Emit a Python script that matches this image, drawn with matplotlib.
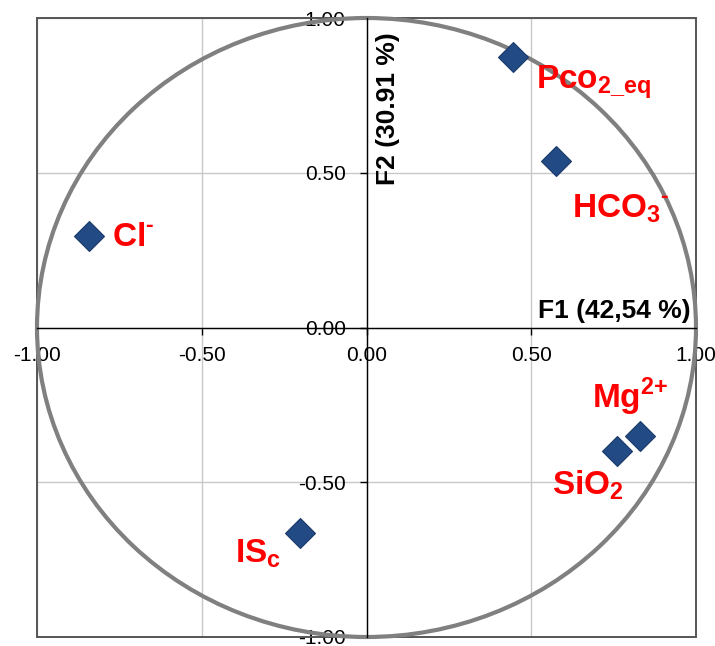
import matplotlib
matplotlib.use("Agg")
import matplotlib.pyplot as plt
from matplotlib.patches import Circle, Rectangle

plt.rcParams['font.family'] = ['Liberation Sans', 'DejaVu Sans']
plt.rcParams['mathtext.fontset'] = 'custom'
plt.rcParams['mathtext.rm'] = 'Liberation Sans:bold'
plt.rcParams['mathtext.bf'] = 'Liberation Sans:bold'

# variables (correlation circle F1/F2)
names = [r'$\mathbf{Pco}_{\mathbf{2\_eq}}$',
         r'$\mathbf{HCO}_{\mathbf{3}}{}^{\text{-}}$',
         r'$\mathbf{Cl}^{\text{-}}$',
         r'$\mathbf{Mg}^{\text{2+}}$',
         r'$\mathbf{SiO}_{\mathbf{2}}$',
         r'$\mathbf{IS}_{\mathbf{c}}$']
f1 = [0.444, 0.574, -0.842, 0.831, 0.760, -0.202]
f2 = [0.874, 0.538, 0.296, -0.350, -0.398, -0.664]
ticks = [-1.0, -0.5, 0.0, 0.5, 1.0]
tick_labels = ['-1.00', '-0.50', '0.00', '0.50', '1.00']

# label offsets in pixels (dx, dy) from the marker
offsets = [(23, -31), (16, -56), (23, -10), (-48, 28), (-65, -44), (-65, -29)]

fig = plt.figure(figsize=(7.15, 6.46), dpi=100)
ax = fig.add_axes([37 / 715, 9 / 646, 659 / 715, 619 / 646])
ax.set_xlim(-1, 1)
ax.set_ylim(-1, 1)

ax.spines['left'].set_position('zero')
ax.spines['bottom'].set_position('zero')
ax.spines['top'].set_visible(False)
ax.spines['right'].set_visible(False)
for s in ('left', 'bottom'):
    ax.spines[s].set_color('black')
    ax.spines[s].set_linewidth(1.0)
ax.add_patch(Rectangle((0, 0), 1, 1, transform=ax.transAxes, fill=False,
                       ec='#555555', lw=1.4, zorder=1, clip_on=False))

ax.set_xticks(ticks)
ax.set_xticklabels(tick_labels)
ax.set_yticks(ticks)
ax.set_yticklabels(tick_labels)
ax.tick_params(direction='out', length=5, width=1, labelsize=15, color='black')
ax.tick_params(axis='x', pad=8)
ax.tick_params(axis='y', pad=10)
ax.grid(True, color='#c8c8c8', lw=1)
ax.set_axisbelow(True)

ax.add_patch(Circle((0, 0), 1, fill=False, ec='#808080', lw=3, zorder=2, clip_on=False))

ax.plot(f1, f2, 'D', ms=15, mfc='#224a85', mec='#1a3a6a', mew=0.8, zorder=3, clip_on=False)

for n, x, y, (dx, dy) in zip(names, f1, f2, offsets):
    ax.annotate(n, (x, y), xytext=(dx, dy), textcoords='offset pixels',
                ha='left', va='baseline', color='red', fontsize=24, zorder=4)

ax.text(0.985, 0.015, 'F1 (42,54 %)', fontsize=19, fontweight='bold',
        ha='right', va='bottom')
ax.text(0.03, 0.955, 'F2 (30.91 %)', fontsize=19, fontweight='bold',
        rotation=90, ha='left', va='top')

fig.savefig('out.png', dpi=100)
